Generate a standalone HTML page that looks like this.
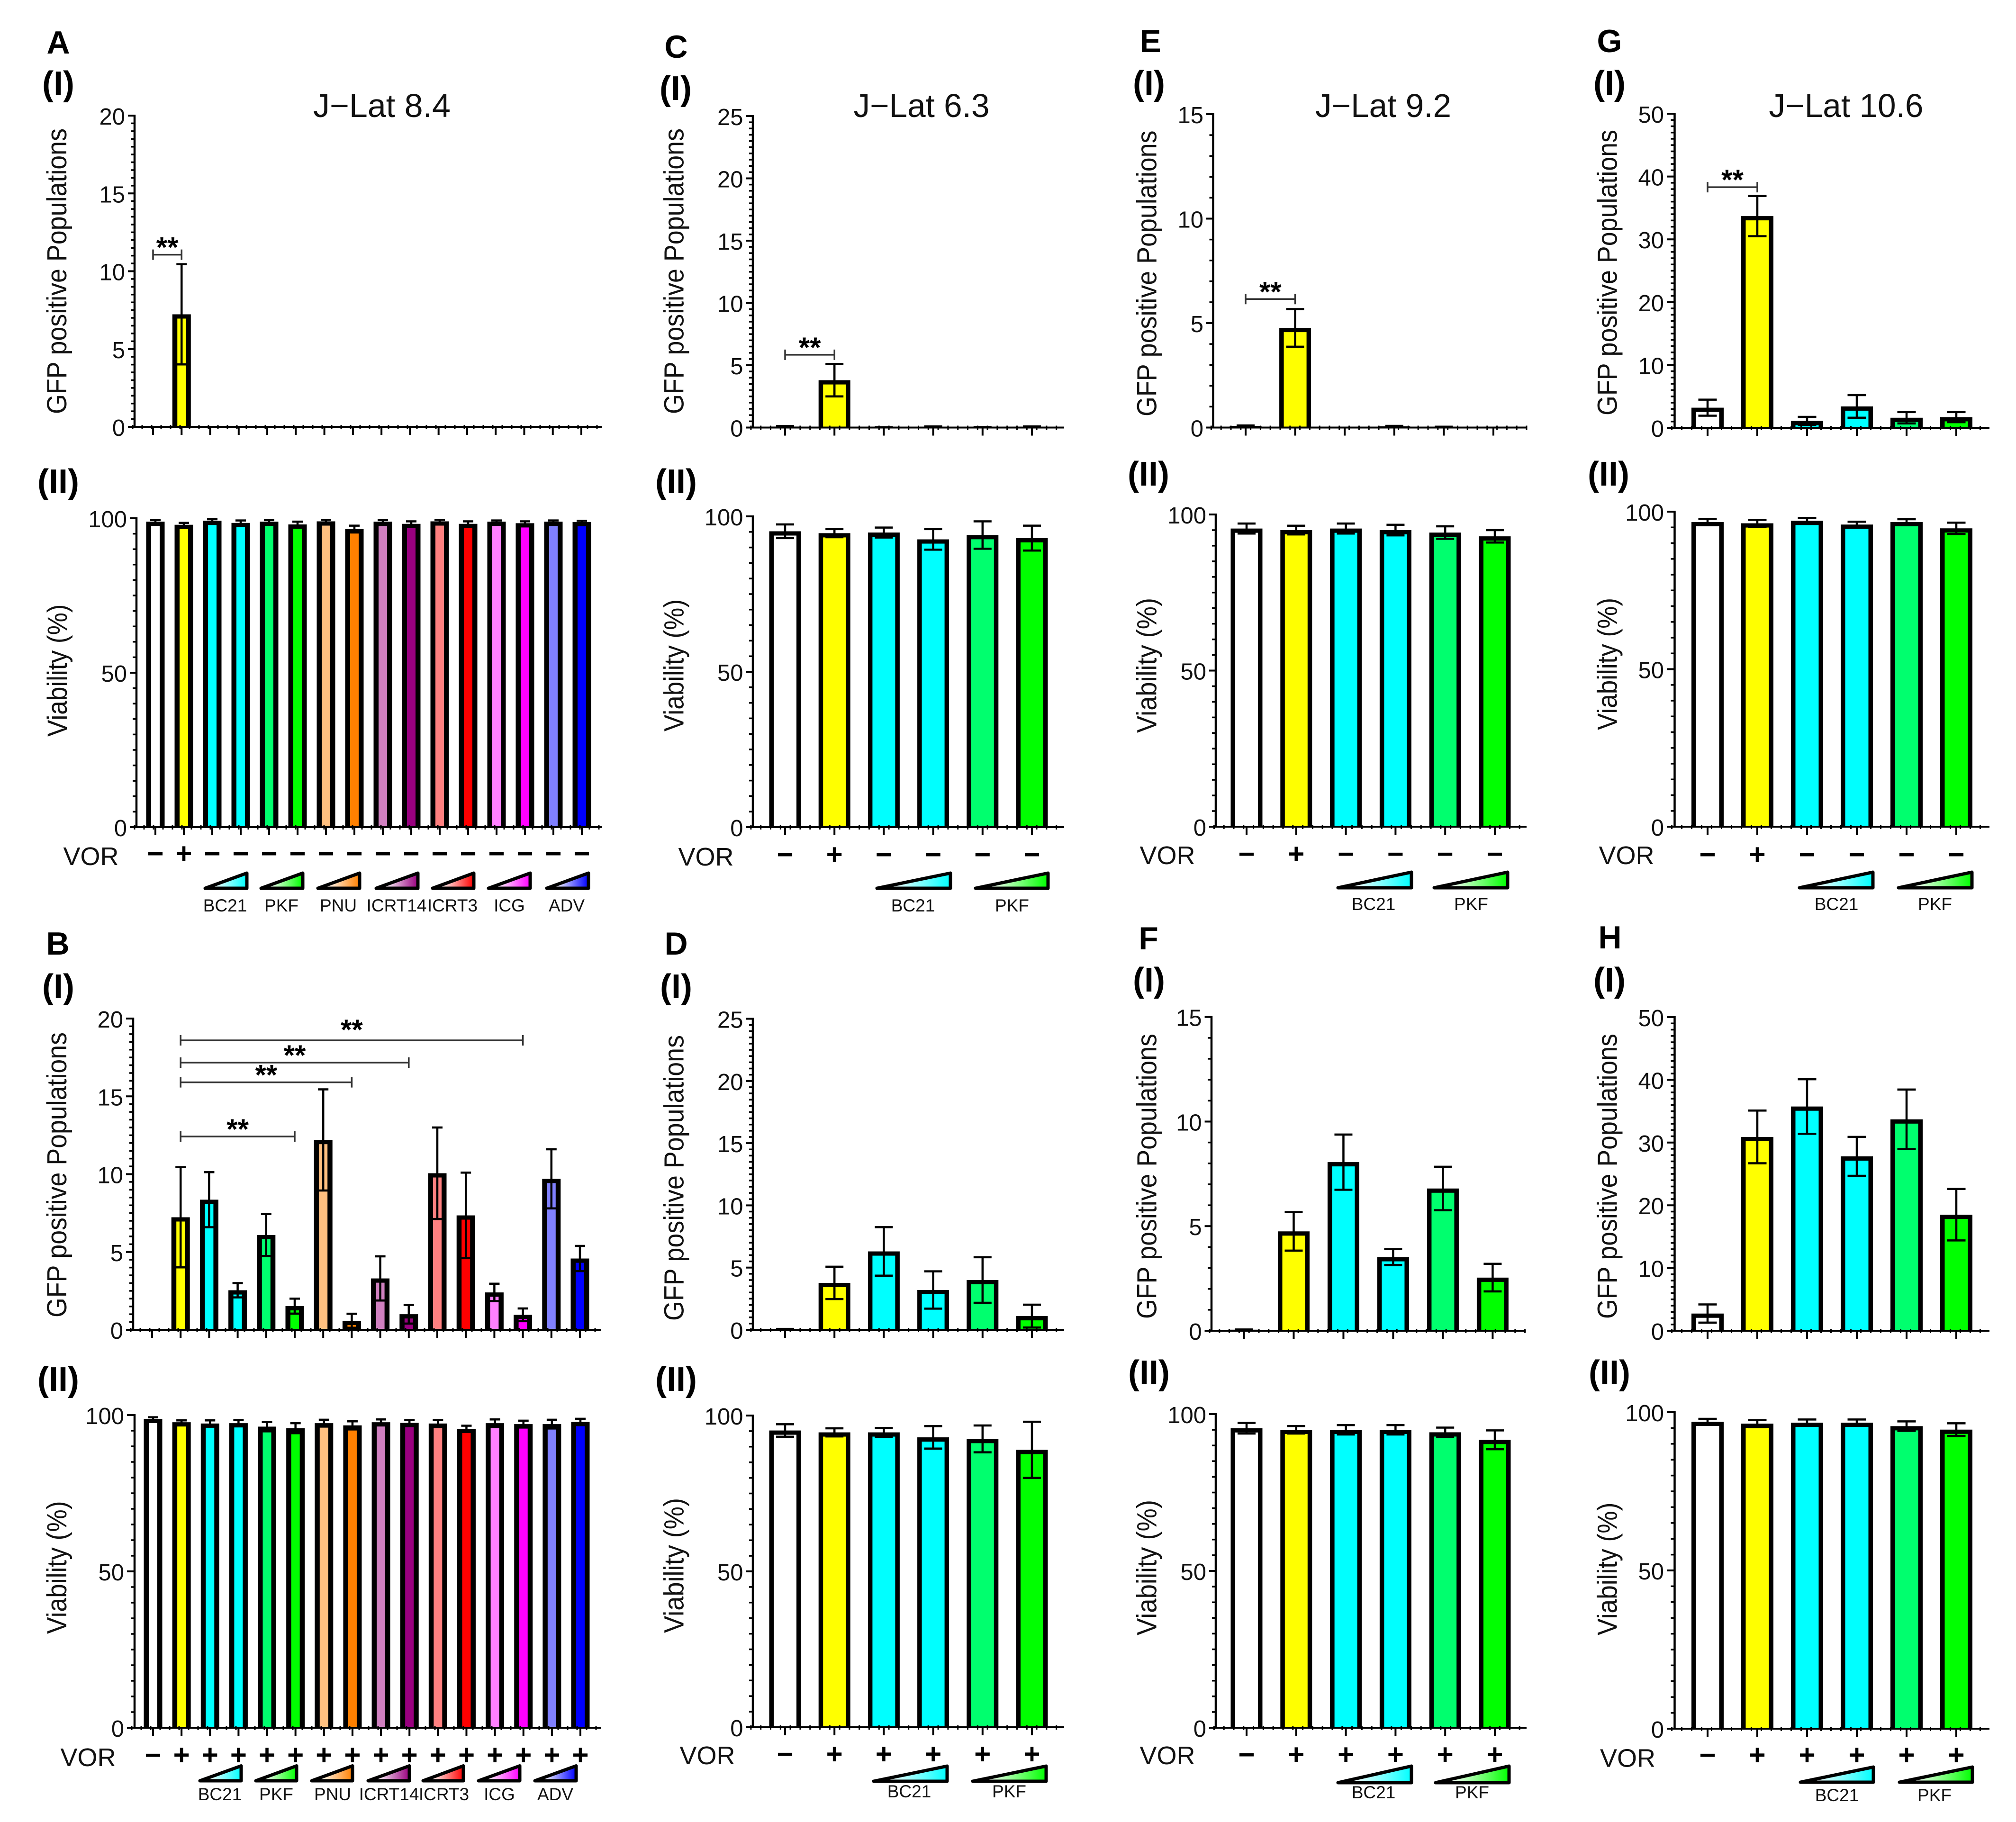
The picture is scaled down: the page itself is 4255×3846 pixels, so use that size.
<!DOCTYPE html>
<html lang="en">
<head>
<meta charset="utf-8">
<title>J-Lat GFP and viability panels</title>
<style>
  html, body { margin: 0; padding: 0; background: #fff; }
  svg { display: block; font-family: "Liberation Sans", sans-serif; fill: #000; }
</style>
</head>
<body>
<svg id="figure" xmlns="http://www.w3.org/2000/svg" width="4255" height="3846" viewBox="0 0 4255 3846">
  <rect x="0" y="0" width="4255" height="3846" fill="#ffffff"></rect>
</svg>
<script>
// ---------- categories ----------
const categories16 = ['Control','VOR','BC21-low','BC21-high','PKF-low','PKF-high','PNU-low','PNU-high','ICRT14-low','ICRT14-high','ICRT3-low','ICRT3-high','ICG-low','ICG-high','ADV-low','ADV-high'];
const categories6 = ['Control','VOR','BC21-low','BC21-high','PKF-low','PKF-high'];

// ---------- tick labels ----------
const ticksGfp20 = [0,5,10,15,20];
const ticksGfp25 = [0,5,10,15,20,25];
const ticksGfp15 = [0,5,10,15];
const ticksGfp50 = [0,10,20,30,40,50];
const ticksViability = [0,50,100];

// ---------- VOR rows ----------
const vorA = ['−','+','−','−','−','−','−','−','−','−','−','−','−','−','−','−'];
const vorB = ['−','+','+','+','+','+','+','+','+','+','+','+','+','+','+','+'];
const vorMinus6 = ['−','+','−','−','−','−'];
const vorPlus6 = ['−','+','+','+','+','+'];

// ---------- J-Lat 8.4 ----------
const aGfpValues = [0,7.23,0.01,0.01,0.03,0.02,0.02,0.01,0.01,0.01,0.01,0.01,0.01,0.01,0.04,0.04];
const aGfpSd = [0,3.22,0,0,0,0,0,0,0,0,0,0,0,0,0,0];
const aViaValues = [98.9,97.9,99.2,98.5,98.9,98,99,96.5,98.9,98.2,99,98.2,98.9,98.4,98.9,98.8];
const aViaSd = [0.5,0.6,0.5,0.8,0.5,0.9,0.5,1.1,0.5,0.8,0.5,0.8,0.4,0.6,0.4,0.4];
const bGfpValues = [0,7.23,8.36,2.54,6.09,1.52,12.2,0.58,3.3,1.0,10.06,7.35,2.4,0.96,9.7,4.58];
const bGfpSd = [0,3.22,1.77,0.46,1.35,0.48,3.25,0.45,1.42,0.6,2.94,2.75,0.56,0.41,1.9,0.81];
const bViaValues = [98.8,97.7,97.3,97.4,96.3,95.8,97.4,96.7,97.7,97.5,97.3,95.6,97.4,97.1,97.1,97.8];
const bViaSd = [0.5,0.6,1,1,1.5,1.6,1.1,1.3,0.9,0.9,1.1,1,1.2,1.1,1.4,1];

// ---------- J-Lat 6.3 ----------
const cGfpValues = [0.08,3.8,0.02,0.06,0.03,0.06];
const cGfpSd = [0.04,1.3,0.01,0.03,0.01,0.03];
const cViaValues = [95.2,94.6,94.8,92.6,94,93];
const cViaSd = [2.2,1.3,1.6,3.3,4.4,4];
const dGfpValues = [0.05,3.77,6.3,3.2,4,1.1];
const dGfpSd = [0.02,1.3,1.95,1.5,1.83,0.92];
const dViaValues = [95.2,94.6,94.6,93,92.5,89];
const dViaSd = [2,1.3,1.4,3.6,4.3,9];

// ---------- J-Lat 9.2 ----------
const eGfpValues = [0.08,4.77,0.01,0.06,0.03,0.01];
const eGfpSd = [0.02,0.9,0,0.02,0.01,0];
const eViaValues = [95.5,95,95.5,95,94.2,93];
const eViaSd = [1.6,1.4,1.6,1.7,2,2];
const fGfpValues = [0.05,4.75,8.06,3.52,6.8,2.54];
const fGfpSd = [0.01,0.92,1.32,0.38,1.04,0.66];
const fViaValues = [95.5,95,95,95,94.2,91.8];
const fViaSd = [1.7,1.2,1.5,1.5,1.5,3];

// ---------- J-Lat 10.6 ----------
const gGfpValues = [3.2,33.7,1.1,3.4,1.6,1.7];
const gGfpSd = [1.28,3.2,0.63,1.8,0.9,0.8];
const gViaValues = [96.7,96.3,97.1,95.9,96.7,94.7];
const gViaSd = [1,1.1,0.9,0.9,0.9,1.8];
const hGfpValues = [2.74,30.9,35.75,27.8,33.7,18.5];
const hGfpSd = [1.45,4.2,4.35,3.1,4.75,4.1];
const hViaValues = [97,96.4,96.7,96.7,95.6,94.5];
const hViaSd = [0.9,1.1,1,1,1.5,2];

// ---------- significance brackets: [from category, to category, level] ----------
const aBrackets = [[0,1,11.06]];
const bBrackets = [[1,13,18.6],[1,9,17.17],[1,7,15.9],[1,5,12.42]];
const cBrackets = [[0,1,5.84]];
const eBrackets = [[0,1,6.15]];
const gBrackets = [[0,1,38.3]];
const noBrackets = [];

// ---------- styling ----------
const colors16 = ['#ffffff','#ffff00','#00ffff','#00ffff','#00ff6e','#00ff00','#ffc080','#ff8000','#d080c0','#99007f','#ff8080','#ff0000','#ff80ff','#ff00ff','#8080ff','#0000ff'];
const colors6 = ['#ffffff','#ffff00','#00ffff','#00ffff','#00ff6e','#00ff00'];
const NS = 'http://www.w3.org/2000/svg';
const root = document.getElementById('figure');

const geoA1 = {ax:284,xl:270,xr:1270,t0:323,t1:1227,bw:39,cap:22,mx:20,side:10.5};
const geoA2 = {ax:288,xl:274,xr:1270,t0:328,t1:1228,bw:39,cap:22,mx:20,side:10.5};
const geoB1 = {ax:281,xl:266,xr:1268,t0:321,t1:1224,bw:39,cap:22,mx:20,side:10.5};
const geoB2 = {ax:284,xl:268,xr:1268,t0:323,t1:1225,bw:39,cap:22,mx:20,side:10.5};
const geoC = {ax:1589,xl:1574.5,xr:2246,t0:1657,t1:2178,bw:67,cap:38,mx:20.8,side:9.5};
const geoE1 = {ax:2560.5,xl:2546,xr:3222.5,t0:2629,t1:3152,bw:67,cap:38,mx:20.8,side:9.5};
const geoE2 = {ax:2566,xl:2552,xr:3222,t0:2631,t1:3155,bw:67,cap:38,mx:20.8,side:9.5};
const geoF1 = {ax:2557,xl:2542.6,xr:3220.5,t0:2625.5,t1:3150.4,bw:67,cap:38,mx:20.8,side:9.5};
const geoG = {ax:3534.5,xl:3518,xr:4199,t0:3604,t1:4129,bw:68,cap:39,mx:21,side:9.5};

const panels = [
  {id:'a-gfp',geo:geoA1,top:244,y0:901,max:20,ticks:ticksGfp20,minor:0.5,cats:categories16,colors:colors16,values:aGfpValues,sd:aGfpSd,brackets:aBrackets,title:'GFP positive Populations',tx:140,ty0:271,ty1:874},
  {id:'a-viability',geo:geoA2,top:1094,y0:1746,max:100,ticks:ticksViability,minor:5,cats:categories16,colors:colors16,values:aViaValues,sd:aViaSd,brackets:noBrackets,title:'Viability (%)',tx:141,ty0:1275.5,ty1:1555},
  {id:'b-gfp',geo:geoB1,top:2150,y0:2807,max:20,ticks:ticksGfp20,minor:0.5,cats:categories16,colors:colors16,values:bGfpValues,sd:bGfpSd,brackets:bBrackets,title:'GFP positive Populations',tx:140,ty0:2179,ty1:2781},
  {id:'b-viability',geo:geoB2,top:2987,y0:3647,max:100,ticks:ticksViability,minor:5,cats:categories16,colors:colors16,values:bViaValues,sd:bViaSd,brackets:noBrackets,title:'Viability (%)',tx:140,ty0:3168.5,ty1:3449},
  {id:'c-gfp',geo:geoC,top:245,y0:902.5,max:25,ticks:ticksGfp25,minor:0.5,cats:categories6,colors:colors6,values:cGfpValues,sd:cGfpSd,brackets:cBrackets,title:'GFP positive Populations',tx:1442.5,ty0:271,ty1:874},
  {id:'c-viability',geo:geoC,top:1090,y0:1746,max:100,ticks:ticksViability,minor:5,cats:categories6,colors:colors6,values:cViaValues,sd:cViaSd,brackets:noBrackets,title:'Viability (%)',tx:1442.5,ty0:1265,ty1:1544},
  {id:'d-gfp',geo:geoC,top:2150.5,y0:2807,max:25,ticks:ticksGfp25,minor:0.5,cats:categories6,colors:colors6,values:dGfpValues,sd:dGfpSd,brackets:noBrackets,title:'GFP positive Populations',tx:1442.5,ty0:2185,ty1:2788},
  {id:'d-viability',geo:geoC,top:2988,y0:3646,max:100,ticks:ticksViability,minor:5,cats:categories6,colors:colors6,values:dViaValues,sd:dViaSd,brackets:noBrackets,title:'Viability (%)',tx:1442.5,ty0:3162,ty1:3447},
  {id:'e-gfp',geo:geoE1,top:241,y0:902.5,max:15,ticks:ticksGfp15,minor:1,cats:categories6,colors:colors6,values:eGfpValues,sd:eGfpSd,brackets:eBrackets,title:'GFP positive Populations',tx:2440.5,ty0:275.5,ty1:879},
  {id:'e-viability',geo:geoE2,top:1086,y0:1745,max:100,ticks:ticksViability,minor:5,cats:categories6,colors:colors6,values:eViaValues,sd:eViaSd,brackets:noBrackets,title:'Viability (%)',tx:2440.5,ty0:1262,ty1:1547},
  {id:'f-gfp',geo:geoF1,top:2146.7,y0:2809,max:15,ticks:ticksGfp15,minor:1,cats:categories6,colors:colors6,values:fGfpValues,sd:fGfpSd,brackets:noBrackets,title:'GFP positive Populations',tx:2440.5,ty0:2182,ty1:2784},
  {id:'f-viability',geo:geoE2,top:2985,y0:3647,max:100,ticks:ticksViability,minor:5,cats:categories6,colors:colors6,values:fViaValues,sd:fViaSd,brackets:noBrackets,title:'Viability (%)',tx:2440.5,ty0:3166,ty1:3452},
  {id:'g-gfp',geo:geoG,top:240,y0:903,max:50,ticks:ticksGfp50,minor:1,cats:categories6,colors:colors6,values:gGfpValues,sd:gGfpSd,brackets:gBrackets,title:'GFP positive Populations',tx:3412.7,ty0:274,ty1:877},
  {id:'g-viability',geo:geoG,top:1080,y0:1745,max:100,ticks:ticksViability,minor:5,cats:categories6,colors:colors6,values:gViaValues,sd:gViaSd,brackets:noBrackets,title:'Viability (%)',tx:3412.7,ty0:1262,ty1:1541},
  {id:'h-gfp',geo:geoG,top:2147,y0:2809,max:50,ticks:ticksGfp50,minor:1,cats:categories6,colors:colors6,values:hGfpValues,sd:hGfpSd,brackets:noBrackets,title:'GFP positive Populations',tx:3412.7,ty0:2182,ty1:2784},
  {id:'h-viability',geo:geoG,top:2981,y0:3649,max:100,ticks:ticksViability,minor:5,cats:categories6,colors:colors6,values:hViaValues,sd:hViaSd,brackets:noBrackets,title:'Viability (%)',tx:3412.7,ty0:3171.6,ty1:3452}
];

const vorRows = [
  {id:'a',geo:geoA2,signs:vorA,signY:1803,vx:192,vy:1826},
  {id:'b',geo:geoB2,signs:vorB,signY:3706,vx:186,vy:3728},
  {id:'c',geo:geoC,signs:vorMinus6,signY:1805,vx:1490,vy:1827},
  {id:'d',geo:geoC,signs:vorPlus6,signY:3704,vx:1493,vy:3724},
  {id:'e',geo:geoE2,signs:vorMinus6,signY:1804,vx:2464,vy:1824},
  {id:'f',geo:geoE2,signs:vorPlus6,signY:3705,vx:2464,vy:3724},
  {id:'g',geo:geoG,signs:vorMinus6,signY:1805,vx:3433,vy:1824},
  {id:'h',geo:geoG,signs:vorPlus6,signY:3706,vx:3435.5,vy:3729.6}
];

const wedges = [
  {top:1839,bot:1879,ly:1924,items:[['BC21',429,525,475,'#00ffff'],['PKF',547,643,594,'#00ff00'],['PNU',667,763,714,'#ff8000'],['ICRT14',790,886,837,'#99007f'],['ICRT3',909,1004,955,'#ff0000'],['ICG',1027,1123,1075,'#ff00ff'],['ADV',1150,1246,1196,'#0000ff']]},
  {top:3723.5,bot:3763,ly:3800,items:[['BC21',418,513,464,'#00ffff'],['PKF',536,630,583,'#00ff00'],['PNU',654,748,702,'#ff8000'],['ICRT14',773,868,821,'#99007f'],['ICRT3',889,982,937,'#ff0000'],['ICG',1006,1101,1054,'#ff00ff'],['ADV',1125,1220,1172,'#0000ff']]},
  {top:1839,bot:1879,ly:1924,items:[['BC21',1847,2010,1927,'#00ffff'],['PKF',2055,2216,2136,'#00ff00']]},
  {top:3724,bot:3764,ly:3794,items:[['BC21',1840,2003,1919,'#00ffff'],['PKF',2049,2212,2130,'#00ff00']]},
  {top:1837,bot:1878,ly:1921,items:[['BC21',2820,2983,2899,'#00ffff'],['PKF',3023,3186,3105,'#00ff00']]},
  {top:3724,bot:3767,ly:3796,items:[['BC21',2820,2983,2899,'#00ffff'],['PKF',3026,3189,3107,'#00ff00']]},
  {top:1837,bot:1878,ly:1921,items:[['BC21',3794,3957,3876,'#00ffff'],['PKF',4003,4166,4084,'#00ff00']]},
  {top:3726,bot:3766,ly:3802,items:[['BC21',3796,3958,3877,'#00ffff'],['PKF',4005,4167,4083,'#00ff00']]}
];

const letters = [['A',123,113],['B',122,2015],['C',1427,122],['D',1427,2015],['E',2428,110],['F',2424,2004],['G',3397,110],['H',3398,2002]];
const romans = [['(I)',123,201],['(II)',123,1041],['(I)',123,2107],['(II)',123,2936],['(I)',1426,211],['(II)',1427,1041],['(I)',1427,2107],['(II)',1427,2936],['(I)',2425,200],['(II)',2424,1025],['(I)',2425,2093],['(II)',2425,2922],['(I)',3397,200],['(II)',3395,1025],['(I)',3397,2093],['(II)',3397,2922]];
const titles = [['J−Lat 8.4',806,247,290],['J−Lat 6.3',1945,247,287],['J−Lat 9.2',2919.5,247,287],['J−Lat 10.6',3896.5,247,326]];

function mk(tag, attrs, parent) {
  const node = document.createElementNS(NS, tag);
  for (const k in attrs) node.setAttribute(k, attrs[k]);
  parent.appendChild(node);
  return node;
}
function xOf(geo, count, i) { return geo.t0 + (geo.t1 - geo.t0) * i / (count - 1); }
function yOf(p, v) { return p.y0 - (v / p.max) * (p.y0 - p.top); }

// gradients for dose wedges
const defs = mk('defs', {}, root);
['#00ffff','#00ff00','#ff8000','#99007f','#ff0000','#ff00ff','#0000ff'].forEach(function (c) {
  const grad = mk('linearGradient', {id:'grad-' + c.slice(1), x1:'0', y1:'0', x2:'1', y2:'0'}, defs);
  mk('stop', {offset:'0.2', 'stop-color':'#ffffff'}, grad);
  mk('stop', {offset:'1', 'stop-color':c}, grad);
});

panels.forEach(function (p) {
  const g = mk('g', {}, root);
  
  
  const geo = p.geo;
  const n = p.cats.length;

  // bars
  p.values.forEach(function (v, i) {
    const cx = xOf(geo, n, i);
    const yTop = yOf(p, v);
    const outer = mk('rect', {x:cx - geo.bw / 2, y:yTop, width:geo.bw, height:Math.max(0, p.y0 - yTop), fill:'#000'}, g);
    
    
    const innerH = p.y0 - yTop - 9;
    if (innerH > 0) {
      const inner = mk('rect', {x:cx - geo.bw / 2 + geo.side, y:yTop + 9, width:geo.bw - 2 * geo.side, height:innerH, fill:p.colors[i]}, g);
      
      
    }
  });

  // error bars
  p.sd.forEach(function (s, i) {
    if (s <= 0) return;
    const cx = xOf(geo, n, i);
    const hi = yOf(p, p.values[i] + s);
    const lo = yOf(p, Math.max(0, p.values[i] - s));
    const half = geo.cap / 2;
    const d = 'M' + (cx - half) + ' ' + hi + 'H' + (cx + half) + 'M' + cx + ' ' + hi + 'V' + lo + 'M' + (cx - half) + ' ' + lo + 'H' + (cx + half);
    const err = mk('path', {d:d, stroke:'#000', 'stroke-width':4.5, fill:'none'}, g);
    
    
  });

  // y axis
  const yLine = mk('line', {x1:geo.ax, x2:geo.ax, y1:p.top - 2, y2:p.y0, stroke:'#000', 'stroke-width':4.5}, g);
  
  
  let minorD = '';
  for (let k = 0; k * p.minor <= p.max + 1e-6; k++) {
    const yy = yOf(p, k * p.minor);
    minorD += 'M' + (geo.ax - 8) + ' ' + yy + 'H' + geo.ax;
  }
  const yMinor = mk('path', {d:minorD, stroke:'#000', 'stroke-width':3.5, fill:'none'}, g);
  
  
  p.ticks.forEach(function (t) {
    const yy = yOf(p, t);
    const tick = mk('line', {x1:geo.xl, x2:geo.ax, y1:yy, y2:yy, stroke:'#000', 'stroke-width':4}, g);
    
    
    const lab = mk('text', {x:geo.xl - 6, y:yy + 19, 'text-anchor':'end', 'font-size':49, fill:'#111'}, g);
    lab.textContent = String(t);
    
    
  });

  // x axis
  const xLine = mk('line', {x1:geo.xl, x2:geo.xr, y1:p.y0, y2:p.y0, stroke:'#000', 'stroke-width':4}, g);
  
  
  let xMinor = '';
  for (let xx = geo.xl + geo.mx / 2; xx < geo.xr; xx += geo.mx) {
    xMinor += 'M' + xx + ' ' + (p.y0 - 4) + 'V' + (p.y0 + 5);
  }
  const xm = mk('path', {d:xMinor, stroke:'#000', 'stroke-width':3, fill:'none'}, g);
  
  
  p.cats.forEach(function (c, i) {
    const cx = xOf(geo, n, i);
    const tick = mk('line', {x1:cx, x2:cx, y1:p.y0, y2:p.y0 + 17, stroke:'#000', 'stroke-width':4}, g);
    
    
  });

  // axis title
  const title = mk('text', {transform:'translate(' + p.tx + ' ' + p.ty1 + ') rotate(-90)', 'font-size':58, textLength:p.ty1 - p.ty0, lengthAdjust:'spacingAndGlyphs', fill:'#111'}, g);
  title.textContent = p.title;
  
  

  // significance brackets
  p.brackets.forEach(function (b, bi) {
    const x1 = xOf(geo, n, b[0]);
    const x2 = xOf(geo, n, b[1]);
    const yy = yOf(p, b[2]);
    const d = 'M' + x1 + ' ' + (yy - 11) + 'V' + (yy + 11) + 'M' + x1 + ' ' + yy + 'H' + x2 + 'M' + x2 + ' ' + (yy - 11) + 'V' + (yy + 11);
    const br = mk('path', {d:d, stroke:'#333', 'stroke-width':3.5, fill:'none'}, g);
    
    
    const lift = (p.id === 'b-gfp' && bi === 0) ? 12 : 5;
    const st = mk('text', {x:(x1 + x2) / 2, y:yy + 10 - lift, 'text-anchor':'middle', 'font-size':60, 'font-weight':'bold'}, g);
    st.textContent = '**';
    
    
  });
});

// VOR rows
vorRows.forEach(function (r) {
  const g = mk('g', {}, root);
  
  
  const lab = mk('text', {x:r.vx, y:r.vy, 'text-anchor':'middle', 'font-size':54, fill:'#111'}, g);
  lab.textContent = 'VOR';
  
  
  r.signs.forEach(function (s, i) {
    const sign = mk('text', {x:xOf(r.geo, r.signs.length, i), y:r.signY + 19, 'text-anchor':'middle', 'font-size':60, 'font-weight':'bold'}, g);
    sign.textContent = s;
    
    
  });
});

// dose wedges
wedges.forEach(function (w) {
  const g = mk('g', {}, root);
  
  
  w.items.forEach(function (it) {
    const pts = (it[1] + 4) + ',' + (w.bot - 4) + ' ' + (it[2] - 4) + ',' + (w.top + 4) + ' ' + (it[2] - 4) + ',' + (w.bot - 4);
    const tri = mk('polygon', {points:pts, fill:'url(#grad-' + it[4].slice(1) + ')', stroke:'#000', 'stroke-width':7, 'stroke-linejoin':'round'}, g);
    
    
    const lab = mk('text', {x:it[3], y:w.ly, 'text-anchor':'middle', 'font-size':37, fill:'#111'}, g);
    lab.textContent = it[0];
    
    
  });
});

// panel letters, roman numerals, titles
letters.forEach(function (l) {
  const t = mk('text', {x:l[1], y:l[2], 'text-anchor':'middle', 'font-size':68, 'font-weight':'bold'}, root);
  t.textContent = l[0];
  
  
});
romans.forEach(function (l) {
  const t = mk('text', {x:l[1], y:l[2], 'text-anchor':'middle', 'font-size':72, 'font-weight':'bold'}, root);
  t.textContent = l[0];
  
  
});
titles.forEach(function (l) {
  const t = mk('text', {x:l[1], y:l[2], 'text-anchor':'middle', 'font-size':70, textLength:l[3], lengthAdjust:'spacingAndGlyphs', fill:'#111'}, root);
  t.textContent = l[0];
  
  
});
</script>
</body>
</html>
